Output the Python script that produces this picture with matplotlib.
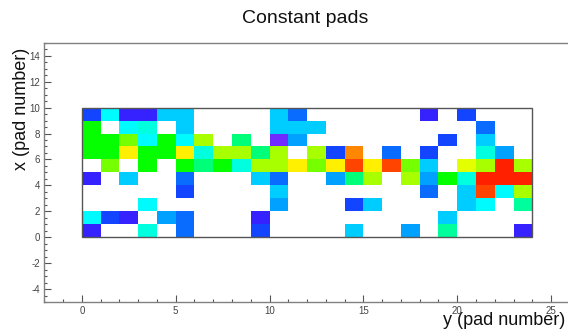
import numpy as np
import matplotlib
matplotlib.use('Agg')
import matplotlib.pyplot as plt
from matplotlib.colors import ListedColormap, hsv_to_rgb
from matplotlib.patches import Rectangle
from matplotlib.ticker import MultipleLocator

plt.rcParams['font.family'] = ['Liberation Sans', 'DejaVu Sans']
plt.rcParams['axes.unicode_minus'] = False

# ============================================================
# DONNEES : valeur constante par pad (0 = pad vide)
# lignes de x = 9 (haut) a x = 0 (bas), colonnes y = 0..23
# ============================================================

titre = "Constant pads"
label_x = "y (pad number)"
label_y = "x (pad number)"

n_y = 24
n_x = 10

row_x9 = [16, 33, 9, 9, 29, 29, 0, 0, 0, 0, 29, 20, 0, 0, 0, 0, 0, 0, 9, 0, 16, 0, 0, 0]
row_x8 = [56, 0, 33, 36, 0, 29, 0, 0, 0, 0, 29, 29, 29, 0, 0, 0, 0, 0, 0, 0, 0, 20, 0, 0]
row_x7 = [56, 56, 66, 33, 56, 33, 70, 0, 45, 0, 4, 25, 0, 0, 0, 0, 0, 0, 0, 16, 0, 29, 0, 0]
row_x6 = [56, 56, 79, 56, 56, 79, 36, 70, 70, 45, 70, 0, 70, 16, 88, 0, 20, 0, 16, 0, 0, 36, 25, 0]
row_x5 = [0, 66, 0, 56, 0, 56, 45, 56, 36, 70, 70, 79, 66, 79, 94, 79, 94, 66, 29, 0, 75, 70, 97, 70]
row_x4 = [9, 0, 29, 0, 0, 20, 0, 0, 0, 29, 20, 0, 0, 25, 45, 70, 0, 70, 25, 56, 36, 97, 97, 97]
row_x3 = [0, 0, 0, 0, 0, 16, 0, 0, 0, 0, 29, 0, 0, 0, 0, 0, 0, 0, 20, 0, 29, 94, 33, 70]
row_x2 = [0, 0, 0, 33, 0, 0, 0, 0, 0, 0, 25, 0, 0, 0, 16, 29, 0, 0, 0, 0, 29, 33, 0, 42]
row_x1 = [33, 16, 9, 0, 25, 20, 0, 0, 0, 9, 0, 0, 0, 0, 0, 0, 0, 0, 0, 29, 0, 0, 0, 0]
row_x0 = [9, 0, 0, 36, 0, 20, 0, 0, 0, 16, 0, 0, 0, 0, 29, 0, 0, 25, 0, 42, 0, 0, 0, 9]

grille = np.array([row_x0, row_x1, row_x2, row_x3, row_x4,
                   row_x5, row_x6, row_x7, row_x8, row_x9], dtype=float)
grille = np.ma.masked_equal(grille, 0)

# ============================================================
# PALETTE style ROOT (violet -> bleu -> cyan -> vert -> jaune -> rouge)
# ============================================================

t = np.linspace(0, 1, 256)
sat = 1 - 0.2 * np.clip((0.25 - t) / 0.25, 0, 1)   # violets un peu delaves
hsv = np.stack([(1 - t) * 270 / 360, sat, np.ones_like(t)], axis=1)
palette = ListedColormap(hsv_to_rgb(hsv))
palette.set_bad('white')

# ============================================================
# FIGURE
# ============================================================

fig = plt.figure(figsize=(5.68, 3.29), dpi=100)
ax = fig.add_axes([0.078, 0.082, 0.922, 0.788])

ax.pcolormesh(np.arange(n_y + 1), np.arange(n_x + 1), grille,
              cmap=palette, vmin=0, vmax=100, edgecolors='none')
ax.add_patch(Rectangle((0, 0), n_y, n_x, fill=False, edgecolor='#555555', lw=1.0))

ax.set_xlim(-2, 25.9)
ax.set_ylim(-5, 15)

ax.xaxis.set_major_locator(MultipleLocator(5))
ax.xaxis.set_minor_locator(MultipleLocator(1))
ax.yaxis.set_major_locator(MultipleLocator(2))
ax.yaxis.set_minor_locator(MultipleLocator(0.5))
ax.tick_params(which='major', direction='in', length=5, width=0.8, color='#555555',
               labelsize=7, labelcolor='#444444', pad=3)
ax.tick_params(which='minor', direction='in', length=2.5, width=0.8, color='#555555')

for side in ['left', 'bottom', 'top']:
    ax.spines[side].set_color('#808080')
    ax.spines[side].set_linewidth(1.0)
ax.spines['right'].set_visible(False)

fig.text(0.537, 0.945, titre, ha='center', va='center', fontsize=14, color='#111111')
fig.text(0.995, 0.026, label_x, ha='right', va='center', fontsize=13, color='#111111')
fig.text(0.037, 0.855, label_y, ha='center', va='top', rotation=90, fontsize=13, color='#111111')

plt.savefig('out.png', dpi=100, facecolor='white')
plt.close()
